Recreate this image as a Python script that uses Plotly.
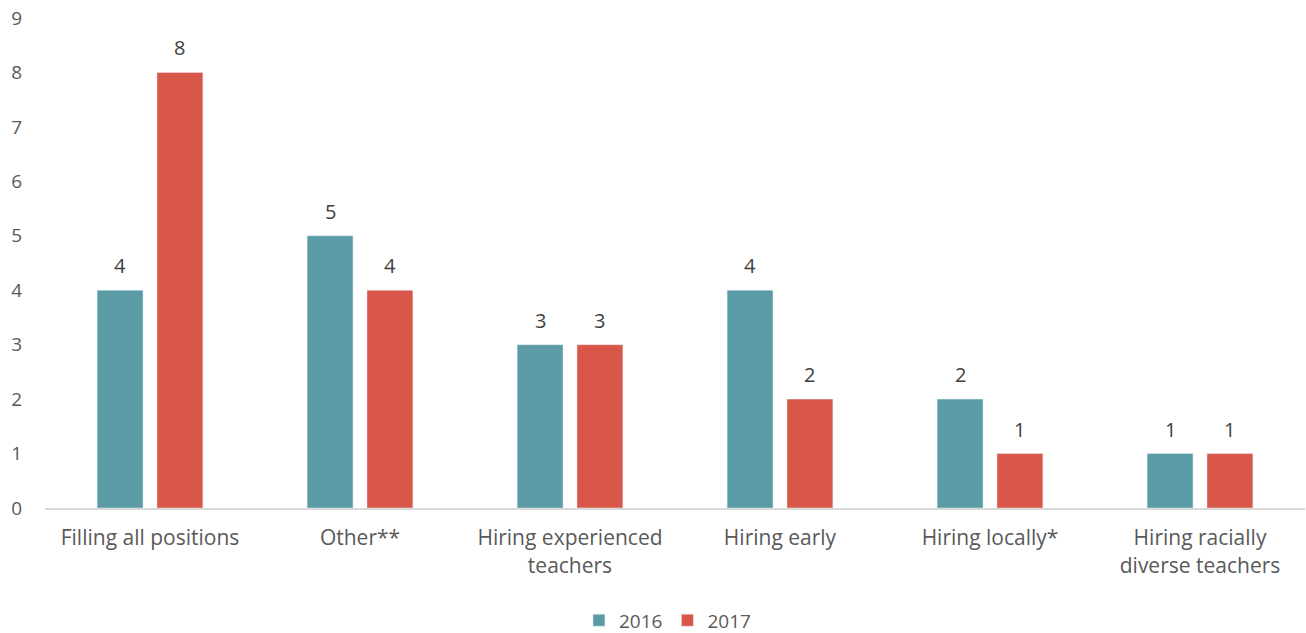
import plotly.graph_objects as go

categories = [
    "Filling all positions",
    "Other**",
    "Hiring experienced<br>teachers",
    "Hiring early",
    "Hiring locally*",
    "Hiring racially<br>diverse teachers",
]
values_2016 = [4, 5, 3, 4, 2, 1]
values_2017 = [8, 4, 3, 2, 1, 1]
y_ticks = list(range(0, 10))

TEAL = "#5b9ba6"
RED = "#d95748"
FONT = "Open Sans"
BARGAP = 0.43
GROUPGAP = 0.233
PLOT_W = 1306 - 45 - 1

fig = go.Figure()
fig.add_trace(go.Bar(name="2016", x=categories, y=values_2016, marker_color=TEAL))
fig.add_trace(go.Bar(name="2017", x=categories, y=values_2017, marker_color=RED))

# value labels above each bar, shifted to the centre of its slot in the group
slot_px = PLOT_W / len(categories) * (1 - BARGAP) / 2
for series, vals in ((-1, values_2016), (1, values_2017)):
    for cat, v in zip(categories, vals):
        fig.add_annotation(
            x=cat, y=v, text=str(v), showarrow=False,
            xshift=series * slot_px / 2, yshift=9, yanchor="bottom",
            font=dict(family=FONT, size=20, color="#404040"),
        )

fig.update_layout(
    width=1306, height=633,
    margin=dict(l=45, r=1, t=18, b=125),
    paper_bgcolor="white", plot_bgcolor="white",
    barmode="group", bargap=BARGAP, bargroupgap=GROUPGAP,
    font=dict(family=FONT, color="#595959"),
    showlegend=True,
    legend=dict(
        orientation="h", x=0.494, xanchor="center",
        yref="container", y=0.02, yanchor="middle",
        font=dict(family=FONT, size=19, color="#595959"),
        traceorder="normal",
    ),
)
fig.update_xaxes(
    showline=True, linecolor="#d9d9d9", linewidth=2, automargin=False,
    showgrid=False, ticks="", ticklabelstandoff=10,
    tickfont=dict(family=FONT, size=21, color="#595959"),
)
fig.update_yaxes(
    range=[0, 9], tickvals=y_ticks, showgrid=False, zeroline=False,
    showline=False, ticks="", ticklabelstandoff=22, automargin=False,
    tickfont=dict(family=FONT, size=19, color="#595959"),
)

fig.write_html("out.html")
